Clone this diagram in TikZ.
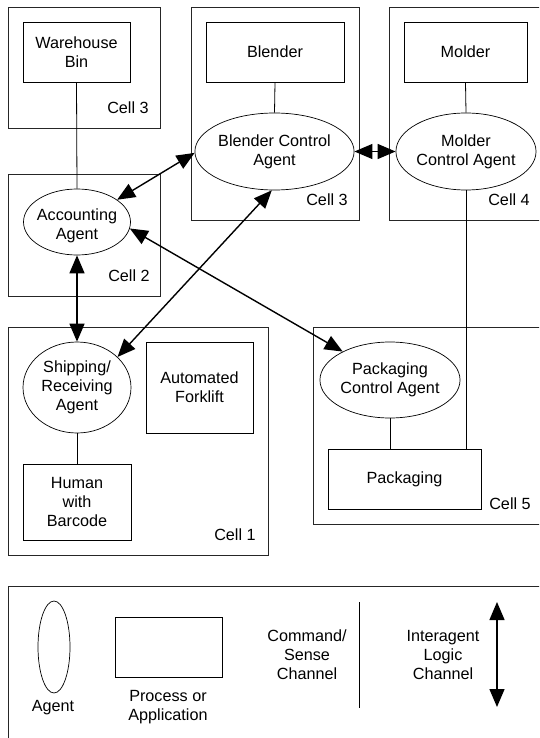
\documentclass[tikz,border=0pt]{standalone}
\usepackage{fontspec}
\setmainfont{Liberation Sans}
\usetikzlibrary{arrows.meta,shapes.geometric}
\tikzset{
  every node/.style={font=\fontsize{16.2}{19}\selectfont},
  cellbox/.style={draw=black!85, line width=0.8pt},
  procbox/.style={draw, line width=0.8pt, rectangle, inner sep=0pt, align=center},
  agent/.style={draw, line width=0.7pt, ellipse, inner sep=0pt, align=center},
  lbl/.style={align=center, inner sep=0pt},
  cmd/.style={line width=0.8pt},
  logic/.style={line width=1.4pt, {Triangle[length=18pt,width=15pt]}-{Triangle[length=18pt,width=15pt]}}
}
\begin{document}
\begin{tikzpicture}[x=1pt,y=-1pt]
\clip (0,0) rectangle (539,738);
\fill[white] (0,0) rectangle (539,738);
% cells
\draw[cellbox] (8,7) rectangle (160,128);
\draw[cellbox] (8,174) rectangle (160,296);
\draw[cellbox] (191,7) rectangle (359,220);
\draw[cellbox] (389,7) rectangle (570,220);
\draw[cellbox] (8,327) rectangle (268,555);
\draw[cellbox] (313,327) rectangle (570,524);
\draw[cellbox] (8,586) rectangle (570,780);
% cell labels
\node[lbl] (c3a) at (128,108) {Cell 3};
\node[lbl] (c2) at (129,276) {Cell 2};
\node[lbl] (c3b) at (327,200) {Cell 3};
\node[lbl] (c4) at (509,200) {Cell 4};
\node[lbl] (c1) at (235,535) {Cell 1};
\node[lbl] (c5) at (510,504) {Cell 5};
% processes
\node[procbox, minimum width=107, minimum height=60] (wh) at (76.5,52) {Warehouse\\Bin};
\node[procbox, minimum width=138, minimum height=60] (blbox) at (275,52) {Blender};
\node[procbox, minimum width=123, minimum height=60] (mobox) at (465.5,52) {Molder};
\node[procbox, minimum width=107, minimum height=91] (fork) at (199.5,387.5) {Automated\\Forklift};
\node[procbox, minimum width=108, minimum height=76] (human) at (77,502) {Human\\with\\Barcode};
\node[procbox, minimum width=153, minimum height=60] (pkbox) at (404.5,479) {Packaging};
% agents
\node[agent, minimum width=107, minimum height=66] (acc) at (77,222) {};
\node[lbl] (acctxt) at (77,226) {Accounting\\Agent};
\node[agent, minimum width=137, minimum height=77] (blend) at (274.5,151.5) {Blender Control\\Agent};
\node[agent, minimum width=122, minimum height=77] (mold) at (466,151.5) {Molder\\Control Agent};
\node[agent, minimum width=108, minimum height=91] (ship) at (77,387.5) {Shipping/\\Receiving\\Agent};
\node[agent, minimum width=122, minimum height=76] (pack) at (390,380) {Packaging\\Control Agent};
% command/sense channels
\draw[cmd] (wh.south) -- (acc.north);
\draw[cmd] (blbox.south) -- (blend.north);
\draw[cmd] (mobox.south) -- (mold.north);
\draw[cmd] (mold.south) -- (mold.south |- pkbox.north);
\draw[cmd] (pack.south) -- (pack.south |- pkbox.north);
\draw[cmd] (ship.south) -- (human.north);
% interagent logic channels
\draw[logic] (acc.29) -- (blend.181);
\draw[logic] (acc.-7) -- (pack.149);
\draw[logic] (acc.south) -- (ship.north);
\draw[logic] (blend.266) -- (ship.37);
\draw[logic] (blend.east) -- (mold.west);
% legend
\node[agent, minimum width=32, minimum height=92] (lgag) at (54,647) {};
\node[lbl] (lgagtxt) at (53,708) {Agent};
\node[procbox, minimum width=107, minimum height=60] (lgpr) at (168.5,647) {};
\node[lbl] (lgprtxt) at (168,707.5) {Process or\\Application};
\node[lbl] (lgcmdtxt) at (307,655) {Command/\\Sense\\Channel};
\coordinate (lgc1) at (359,602);
\coordinate (lgc2) at (359,708);
\draw[cmd] (lgc1) -- (lgc2);
\node[lbl] (lglogtxt) at (443,655) {Interagent\\Logic\\Channel};
\coordinate (lgl1) at (497,602);
\coordinate (lgl2) at (497,707);
\draw[logic] (lgl1) -- (lgl2);
\end{tikzpicture}
\end{document}
